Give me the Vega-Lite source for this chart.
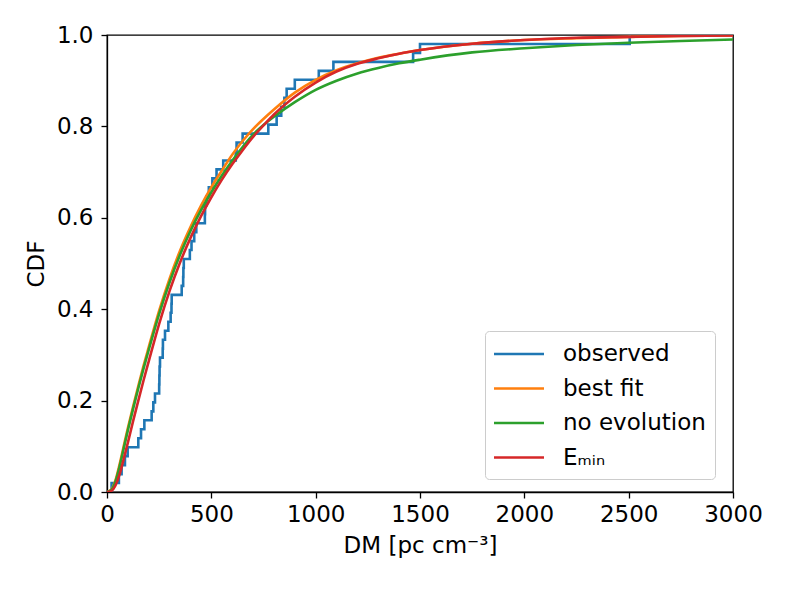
{
  "$schema": "https://vega.github.io/schema/vega-lite/v6.json",
  "width": 626,
  "height": 457,
  "autosize": {"type": "none"},
  "padding": {"left": 107, "top": 35, "right": 56, "bottom": 100},
  "config": {
    "font": "DejaVu Sans",
    "view": {"stroke": "black", "strokeWidth": 1.3},
    "axis": {
      "domainColor": "black", "domainWidth": 1.3,
      "tickColor": "black", "tickWidth": 1.3, "tickSize": 6,
      "labelFont": "DejaVu Sans", "labelFontSize": 23, "labelColor": "black",
      "titleFont": "DejaVu Sans", "titleFontSize": 23, "titleFontWeight": "normal", "titleColor": "black",
      "grid": false
    }
  },
  "datasets": {
    "observed": [
      {"dm": 0, "cdf": 0, "series": "observed"},
      {"dm": 22, "cdf": 0.0196, "series": "observed"},
      {"dm": 57, "cdf": 0.0392, "series": "observed"},
      {"dm": 70, "cdf": 0.0588, "series": "observed"},
      {"dm": 86, "cdf": 0.0784, "series": "observed"},
      {"dm": 99, "cdf": 0.098, "series": "observed"},
      {"dm": 150, "cdf": 0.1176, "series": "observed"},
      {"dm": 163, "cdf": 0.1373, "series": "observed"},
      {"dm": 179, "cdf": 0.1569, "series": "observed"},
      {"dm": 214, "cdf": 0.1765, "series": "observed"},
      {"dm": 222, "cdf": 0.1961, "series": "observed"},
      {"dm": 230, "cdf": 0.2157, "series": "observed"},
      {"dm": 250, "cdf": 0.2353, "series": "observed"},
      {"dm": 251, "cdf": 0.2549, "series": "observed"},
      {"dm": 252, "cdf": 0.2745, "series": "observed"},
      {"dm": 254, "cdf": 0.2941, "series": "observed"},
      {"dm": 267, "cdf": 0.3137, "series": "observed"},
      {"dm": 268, "cdf": 0.3333, "series": "observed"},
      {"dm": 278, "cdf": 0.3529, "series": "observed"},
      {"dm": 294, "cdf": 0.3725, "series": "observed"},
      {"dm": 305, "cdf": 0.3922, "series": "observed"},
      {"dm": 309, "cdf": 0.4118, "series": "observed"},
      {"dm": 310, "cdf": 0.4314, "series": "observed"},
      {"dm": 358, "cdf": 0.451, "series": "observed"},
      {"dm": 365, "cdf": 0.4706, "series": "observed"},
      {"dm": 366, "cdf": 0.4902, "series": "observed"},
      {"dm": 368, "cdf": 0.5098, "series": "observed"},
      {"dm": 397, "cdf": 0.5294, "series": "observed"},
      {"dm": 405, "cdf": 0.549, "series": "observed"},
      {"dm": 418, "cdf": 0.5686, "series": "observed"},
      {"dm": 428, "cdf": 0.5882, "series": "observed"},
      {"dm": 469, "cdf": 0.6078, "series": "observed"},
      {"dm": 470, "cdf": 0.6275, "series": "observed"},
      {"dm": 477, "cdf": 0.6471, "series": "observed"},
      {"dm": 488, "cdf": 0.6667, "series": "observed"},
      {"dm": 505, "cdf": 0.6863, "series": "observed"},
      {"dm": 525, "cdf": 0.7059, "series": "observed"},
      {"dm": 557, "cdf": 0.7255, "series": "observed"},
      {"dm": 617, "cdf": 0.7451, "series": "observed"},
      {"dm": 621, "cdf": 0.7647, "series": "observed"},
      {"dm": 650, "cdf": 0.7843, "series": "observed"},
      {"dm": 773, "cdf": 0.8039, "series": "observed"},
      {"dm": 813, "cdf": 0.8235, "series": "observed"},
      {"dm": 835, "cdf": 0.8431, "series": "observed"},
      {"dm": 850, "cdf": 0.8627, "series": "observed"},
      {"dm": 861, "cdf": 0.8824, "series": "observed"},
      {"dm": 900, "cdf": 0.902, "series": "observed"},
      {"dm": 1015, "cdf": 0.9216, "series": "observed"},
      {"dm": 1085, "cdf": 0.9412, "series": "observed"},
      {"dm": 1467, "cdf": 0.9608, "series": "observed"},
      {"dm": 1500, "cdf": 0.9804, "series": "observed"},
      {"dm": 2505, "cdf": 1.0, "series": "observed"}
    ],
    "models": [
      {"dm": 0, "cdf": 0, "series": "best fit"},
      {"dm": 20, "cdf": 0.005, "series": "best fit"},
      {"dm": 40, "cdf": 0.025, "series": "best fit"},
      {"dm": 60, "cdf": 0.06, "series": "best fit"},
      {"dm": 80, "cdf": 0.1, "series": "best fit"},
      {"dm": 100, "cdf": 0.14, "series": "best fit"},
      {"dm": 125, "cdf": 0.187, "series": "best fit"},
      {"dm": 150, "cdf": 0.232, "series": "best fit"},
      {"dm": 175, "cdf": 0.276, "series": "best fit"},
      {"dm": 200, "cdf": 0.317, "series": "best fit"},
      {"dm": 250, "cdf": 0.397, "series": "best fit"},
      {"dm": 300, "cdf": 0.467, "series": "best fit"},
      {"dm": 350, "cdf": 0.528, "series": "best fit"},
      {"dm": 400, "cdf": 0.58, "series": "best fit"},
      {"dm": 450, "cdf": 0.626, "series": "best fit"},
      {"dm": 500, "cdf": 0.667, "series": "best fit"},
      {"dm": 550, "cdf": 0.703, "series": "best fit"},
      {"dm": 600, "cdf": 0.738, "series": "best fit"},
      {"dm": 650, "cdf": 0.768, "series": "best fit"},
      {"dm": 700, "cdf": 0.794, "series": "best fit"},
      {"dm": 800, "cdf": 0.837, "series": "best fit"},
      {"dm": 900, "cdf": 0.874, "series": "best fit"},
      {"dm": 1000, "cdf": 0.902, "series": "best fit"},
      {"dm": 1100, "cdf": 0.923, "series": "best fit"},
      {"dm": 1200, "cdf": 0.938, "series": "best fit"},
      {"dm": 1300, "cdf": 0.95, "series": "best fit"},
      {"dm": 1400, "cdf": 0.959, "series": "best fit"},
      {"dm": 1500, "cdf": 0.967, "series": "best fit"},
      {"dm": 1750, "cdf": 0.981, "series": "best fit"},
      {"dm": 2000, "cdf": 0.989, "series": "best fit"},
      {"dm": 2250, "cdf": 0.993, "series": "best fit"},
      {"dm": 2500, "cdf": 0.996, "series": "best fit"},
      {"dm": 2750, "cdf": 0.998, "series": "best fit"},
      {"dm": 3000, "cdf": 0.999, "series": "best fit"},
      {"dm": 0, "cdf": 0, "series": "no evolution"},
      {"dm": 20, "cdf": 0.004, "series": "no evolution"},
      {"dm": 40, "cdf": 0.022, "series": "no evolution"},
      {"dm": 60, "cdf": 0.055, "series": "no evolution"},
      {"dm": 80, "cdf": 0.095, "series": "no evolution"},
      {"dm": 100, "cdf": 0.135, "series": "no evolution"},
      {"dm": 125, "cdf": 0.182, "series": "no evolution"},
      {"dm": 150, "cdf": 0.227, "series": "no evolution"},
      {"dm": 175, "cdf": 0.27, "series": "no evolution"},
      {"dm": 200, "cdf": 0.311, "series": "no evolution"},
      {"dm": 250, "cdf": 0.39, "series": "no evolution"},
      {"dm": 300, "cdf": 0.459, "series": "no evolution"},
      {"dm": 350, "cdf": 0.519, "series": "no evolution"},
      {"dm": 400, "cdf": 0.571, "series": "no evolution"},
      {"dm": 450, "cdf": 0.616, "series": "no evolution"},
      {"dm": 500, "cdf": 0.656, "series": "no evolution"},
      {"dm": 550, "cdf": 0.692, "series": "no evolution"},
      {"dm": 600, "cdf": 0.725, "series": "no evolution"},
      {"dm": 650, "cdf": 0.755, "series": "no evolution"},
      {"dm": 700, "cdf": 0.782, "series": "no evolution"},
      {"dm": 750, "cdf": 0.803, "series": "no evolution"},
      {"dm": 800, "cdf": 0.821, "series": "no evolution"},
      {"dm": 900, "cdf": 0.853, "series": "no evolution"},
      {"dm": 1000, "cdf": 0.88, "series": "no evolution"},
      {"dm": 1100, "cdf": 0.9, "series": "no evolution"},
      {"dm": 1200, "cdf": 0.916, "series": "no evolution"},
      {"dm": 1300, "cdf": 0.928, "series": "no evolution"},
      {"dm": 1400, "cdf": 0.938, "series": "no evolution"},
      {"dm": 1500, "cdf": 0.946, "series": "no evolution"},
      {"dm": 1750, "cdf": 0.962, "series": "no evolution"},
      {"dm": 2000, "cdf": 0.971, "series": "no evolution"},
      {"dm": 2250, "cdf": 0.978, "series": "no evolution"},
      {"dm": 2500, "cdf": 0.983, "series": "no evolution"},
      {"dm": 2750, "cdf": 0.987, "series": "no evolution"},
      {"dm": 3000, "cdf": 0.99, "series": "no evolution"},
      {"dm": 0, "cdf": 0, "series": "Eₘᵢₙ"},
      {"dm": 20, "cdf": 0.002, "series": "Eₘᵢₙ"},
      {"dm": 40, "cdf": 0.014, "series": "Eₘᵢₙ"},
      {"dm": 60, "cdf": 0.038, "series": "Eₘᵢₙ"},
      {"dm": 80, "cdf": 0.072, "series": "Eₘᵢₙ"},
      {"dm": 100, "cdf": 0.108, "series": "Eₘᵢₙ"},
      {"dm": 125, "cdf": 0.155, "series": "Eₘᵢₙ"},
      {"dm": 150, "cdf": 0.2, "series": "Eₘᵢₙ"},
      {"dm": 175, "cdf": 0.244, "series": "Eₘᵢₙ"},
      {"dm": 200, "cdf": 0.286, "series": "Eₘᵢₙ"},
      {"dm": 250, "cdf": 0.368, "series": "Eₘᵢₙ"},
      {"dm": 300, "cdf": 0.44, "series": "Eₘᵢₙ"},
      {"dm": 350, "cdf": 0.502, "series": "Eₘᵢₙ"},
      {"dm": 400, "cdf": 0.556, "series": "Eₘᵢₙ"},
      {"dm": 450, "cdf": 0.603, "series": "Eₘᵢₙ"},
      {"dm": 500, "cdf": 0.645, "series": "Eₘᵢₙ"},
      {"dm": 550, "cdf": 0.683, "series": "Eₘᵢₙ"},
      {"dm": 600, "cdf": 0.717, "series": "Eₘᵢₙ"},
      {"dm": 650, "cdf": 0.748, "series": "Eₘᵢₙ"},
      {"dm": 700, "cdf": 0.777, "series": "Eₘᵢₙ"},
      {"dm": 750, "cdf": 0.802, "series": "Eₘᵢₙ"},
      {"dm": 800, "cdf": 0.826, "series": "Eₘᵢₙ"},
      {"dm": 900, "cdf": 0.865, "series": "Eₘᵢₙ"},
      {"dm": 1000, "cdf": 0.896, "series": "Eₘᵢₙ"},
      {"dm": 1100, "cdf": 0.92, "series": "Eₘᵢₙ"},
      {"dm": 1200, "cdf": 0.937, "series": "Eₘᵢₙ"},
      {"dm": 1300, "cdf": 0.949, "series": "Eₘᵢₙ"},
      {"dm": 1400, "cdf": 0.959, "series": "Eₘᵢₙ"},
      {"dm": 1500, "cdf": 0.967, "series": "Eₘᵢₙ"},
      {"dm": 1750, "cdf": 0.981, "series": "Eₘᵢₙ"},
      {"dm": 2000, "cdf": 0.989, "series": "Eₘᵢₙ"},
      {"dm": 2250, "cdf": 0.994, "series": "Eₘᵢₙ"},
      {"dm": 2500, "cdf": 0.996, "series": "Eₘᵢₙ"},
      {"dm": 2750, "cdf": 0.998, "series": "Eₘᵢₙ"},
      {"dm": 3000, "cdf": 0.999, "series": "Eₘᵢₙ"}
    ]
  },
  "encoding": {
    "x": {
      "field": "dm", "type": "quantitative",
      "scale": {"domain": [0, 3000], "nice": false, "zero": false},
      "axis": {"values": [0, 500, 1000, 1500, 2000, 2500, 3000], "format": "d", "labelPadding": 5, "title": "DM [pc cm⁻³]", "titlePadding": 8, "labelFlush": false, "labelOverlap": false}
    },
    "y": {
      "field": "cdf", "type": "quantitative",
      "scale": {"domain": [0, 1], "nice": false},
      "axis": {"values": [0, 0.2, 0.4, 0.6, 0.8, 1.0], "format": ".1f", "labelPadding": 8, "title": "CDF", "titlePadding": 8, "labelFlush": false, "labelOverlap": false}
    },
    "color": {
      "field": "series", "type": "nominal",
      "scale": {"domain": ["observed", "best fit", "no evolution", "Eₘᵢₙ"], "range": ["#1f77b4", "#ff7f0e", "#2ca02c", "#d62728"]},
      "legend": {
        "title": null, "orient": "none", "legendX": 378, "legendY": 296,
        "symbolType": "M-2,0H2", "symbolSize": 625, "symbolStrokeWidth": 2.6, "symbolOffset": 11,
        "labelOffset": 30, "labelFontSize": 23, "labelFont": "DejaVu Sans", "labelColor": "black",
        "rowPadding": 8.5, "padding": 9, "strokeColor": "#cccccc", "fillColor": "white", "cornerRadius": 4
      }
    }
  },
  "layer": [
    {
      "data": {"name": "observed"},
      "mark": {"type": "line", "interpolate": "step-after", "strokeWidth": 2.6, "clip": true}
    },
    {
      "data": {"name": "models"},
      "mark": {"type": "line", "interpolate": "monotone", "strokeWidth": 2.6, "clip": true}
    }
  ]
}
